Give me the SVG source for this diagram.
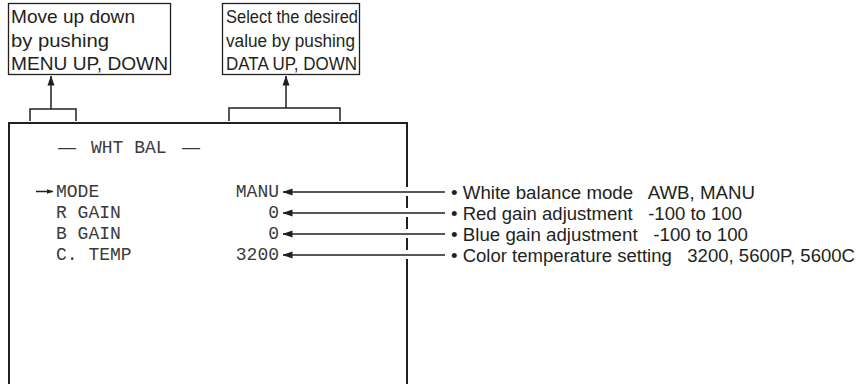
<svg xmlns="http://www.w3.org/2000/svg" width="863" height="384" viewBox="0 0 863 384">
<defs>
<style>
.box{fill:#fff;stroke:#231f20;stroke-width:1.3}
.frame{fill:none;stroke:#231f20;stroke-width:2}
.lbl{font-family:"Liberation Sans",Arial,sans-serif;font-size:18.5px;fill:#231f20}
.lbl2{font-family:"Liberation Sans",Arial,sans-serif;font-size:17.5px;fill:#231f20}
.mono{font-family:"Liberation Mono","Courier New",monospace;font-size:18px;fill:#3a3a3a}
.con{fill:none;stroke:#231f20;stroke-width:1.5}
.desc{font-family:"Liberation Sans",Arial,sans-serif;font-size:17.5px;fill:#231f20;white-space:pre}
</style>
<marker id="ah" markerWidth="10" markerHeight="8" refX="9.5" refY="4" orient="auto" markerUnits="userSpaceOnUse">
<path d="M0,0.5 L10,4 L0,7.5 z" fill="#231f20"/>
</marker>
<marker id="ahs" markerWidth="7" markerHeight="6" refX="6.5" refY="3" orient="auto" markerUnits="userSpaceOnUse">
<path d="M0,0.5 L7,3 L0,5.5 z" fill="#231f20"/>
</marker>
</defs>
<g id="note-menu">
<rect class="box" x="8.5" y="3.5" width="162" height="71"/>
<text class="lbl" x="11" y="23" textLength="124" lengthAdjust="spacingAndGlyphs">Move up down</text>
<text class="lbl" x="11" y="46.5" textLength="98" lengthAdjust="spacingAndGlyphs">by pushing</text>
<text class="lbl" x="11" y="70" textLength="157" lengthAdjust="spacingAndGlyphs">MENU UP, DOWN</text>
</g>
<g id="note-data">
<rect class="box" x="222.5" y="3.5" width="137" height="71"/>
<text class="lbl2" x="226" y="23" textLength="132" lengthAdjust="spacingAndGlyphs">Select the desired</text>
<text class="lbl2" x="226" y="46.5" textLength="129" lengthAdjust="spacingAndGlyphs">value by pushing</text>
<text class="lbl2" x="226" y="70" textLength="131" lengthAdjust="spacingAndGlyphs">DATA UP, DOWN</text>
</g>
<g id="screen">
<path class="frame" d="M9,384 V123 H407 V187 M407,196 V208 M407,217 V229 M407,238 V250 M407,259 V384"/>
<text class="mono" y="153"><tspan x="58" font-family="Liberation Sans, Arial, sans-serif">—</tspan><tspan x="91">WHT BAL</tspan><tspan x="182" font-family="Liberation Sans, Arial, sans-serif">—</tspan></text>
<text class="mono" x="56" y="197">MODE</text>
<text class="mono" x="56" y="218">R GAIN</text>
<text class="mono" x="56" y="239">B GAIN</text>
<text class="mono" x="56" y="260">C. TEMP</text>
<text class="mono" x="279" y="197" text-anchor="end">MANU</text>
<text class="mono" x="279" y="218" text-anchor="end">0</text>
<text class="mono" x="279" y="239" text-anchor="end">0</text>
<text class="mono" x="279" y="260" text-anchor="end">3200</text>
</g>
<g id="descriptions">
<text class="desc" xml:space="preserve" x="451" y="199" textLength="304" lengthAdjust="spacingAndGlyphs">• White balance mode   AWB, MANU</text>
<text class="desc" xml:space="preserve" x="451" y="220" textLength="291" lengthAdjust="spacingAndGlyphs">• Red gain adjustment   -100 to 100</text>
<text class="desc" xml:space="preserve" x="451" y="241" textLength="297" lengthAdjust="spacingAndGlyphs">• Blue gain adjustment   -100 to 100</text>
<text class="desc" xml:space="preserve" x="451" y="262" textLength="404" lengthAdjust="spacingAndGlyphs">• Color temperature setting   3200, 5600P, 5600C</text>
</g>
<g id="connectors">
<path class="con" d="M30,121 V109 H76 V121"/>
<path class="con" d="M51,109 V76" marker-end="url(#ah)"/>
<path class="con" d="M229,121 V108 H340 V121"/>
<path class="con" d="M286,108 V76" marker-end="url(#ah)"/>
<path class="con" d="M36,191.5 H53" marker-end="url(#ahs)"/>
<path class="con" d="M445,192 H283" marker-end="url(#ah)"/>
<path class="con" d="M445,213 H283" marker-end="url(#ah)"/>
<path class="con" d="M445,234 H283" marker-end="url(#ah)"/>
<path class="con" d="M445,255 H283" marker-end="url(#ah)"/>
</g>
</svg>
